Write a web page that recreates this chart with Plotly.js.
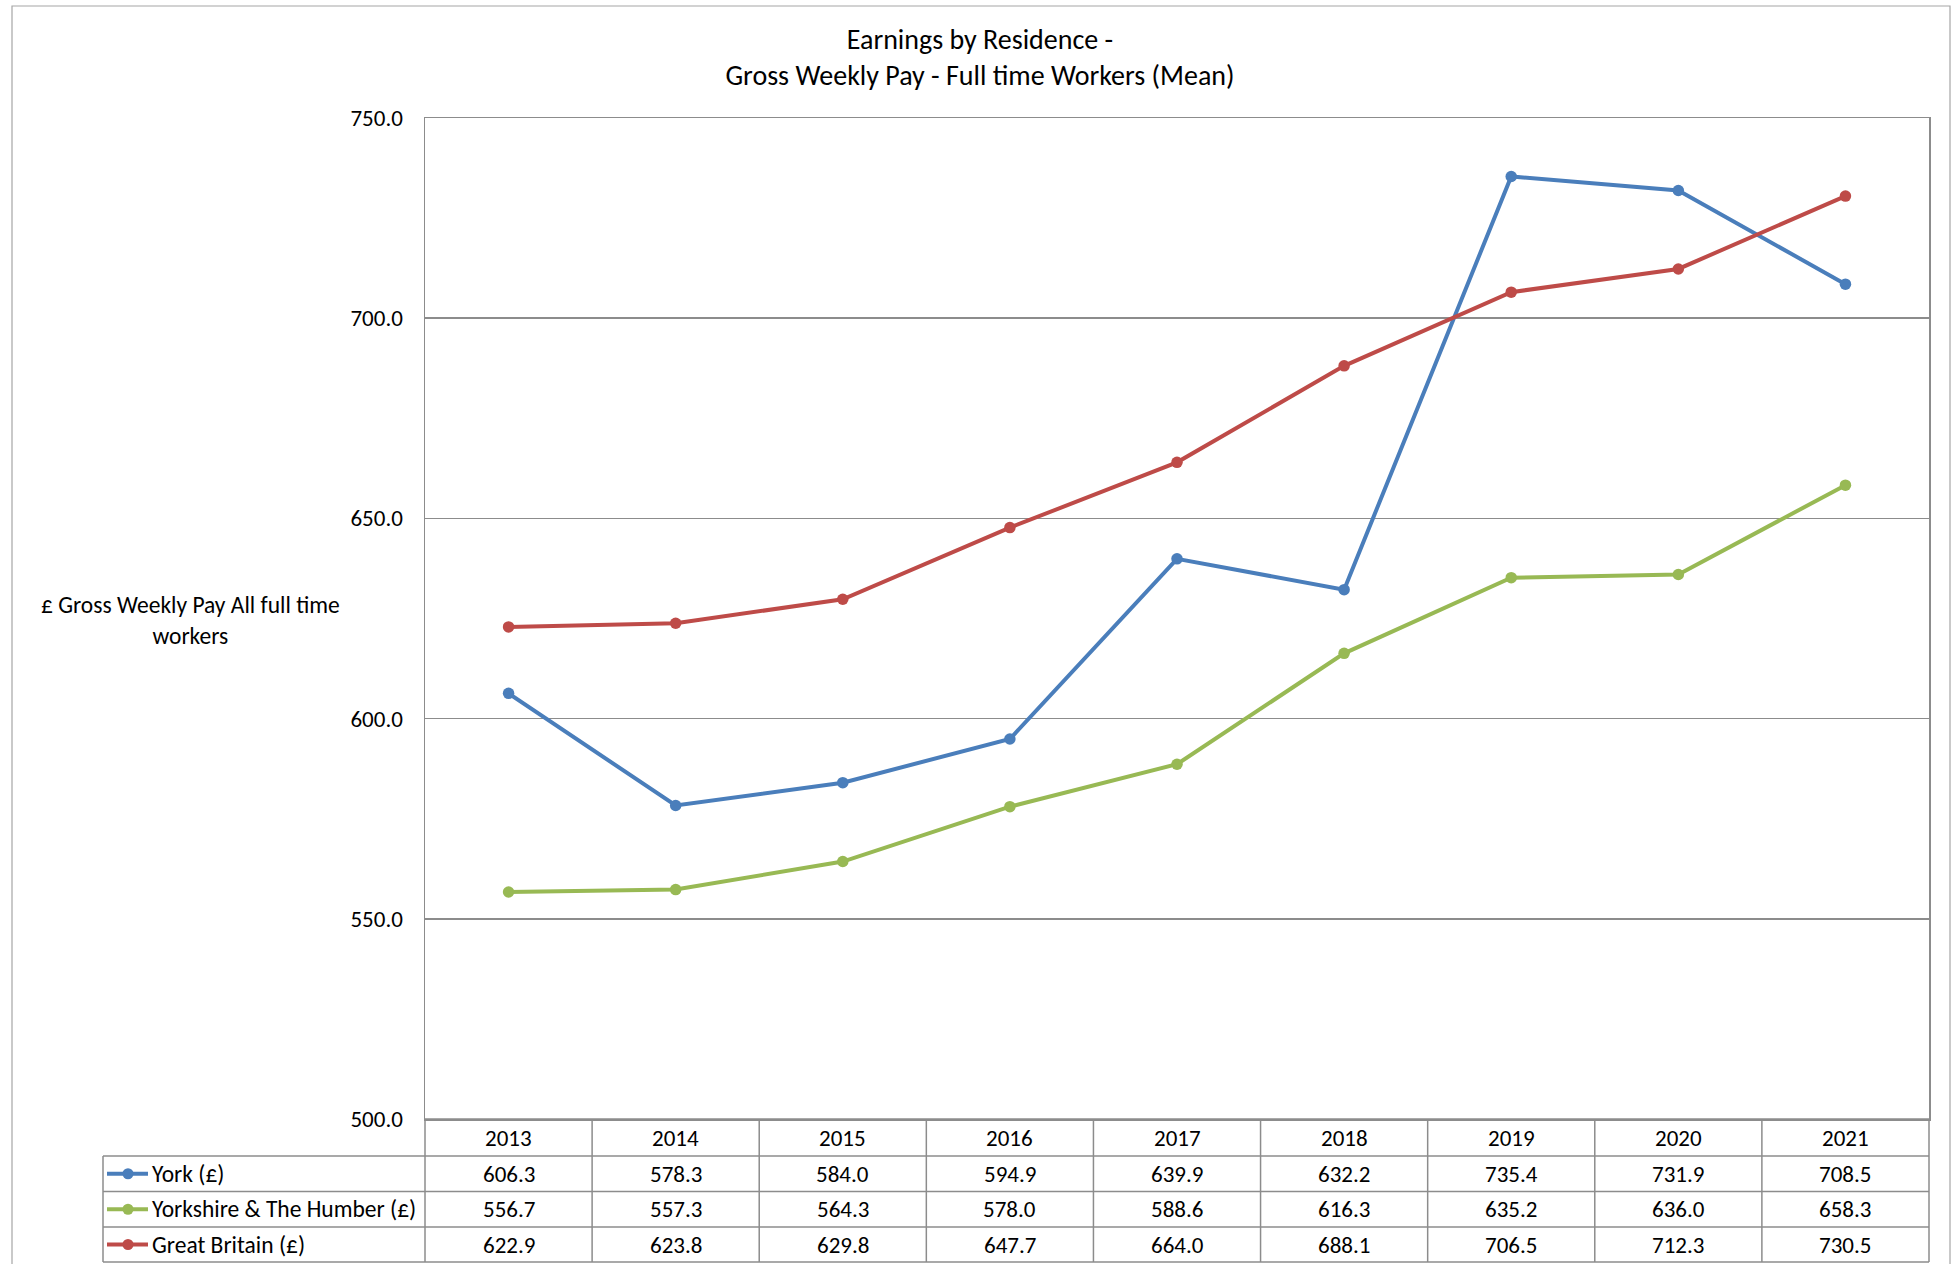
<!DOCTYPE html>
<html>
<head>
<meta charset="utf-8">
<script src="https://cdn.plot.ly/plotly-3.0.1.min.js"></script>
<style>html,body{margin:0;padding:0;background:#fff;}#chart{width:1956px;height:1264px;}</style>
</head>
<body>
<div id="chart"></div>
<script>
const years = ["2013","2014","2015","2016","2017","2018","2019","2020","2021"];
const york = [606.3, 578.3, 584.0, 594.9, 639.9, 632.2, 735.4, 731.9, 708.5];
const yorkshire = [556.7, 557.3, 564.3, 578.0, 588.6, 616.3, 635.2, 636.0, 658.3];
const greatBritain = [622.9, 623.8, 629.8, 647.7, 664.0, 688.1, 706.5, 712.3, 730.5];
const seriesNames = ["York (£)", "Yorkshire & The Humber (£)", "Great Britain (£)"];
const seriesColors = ["#4A7EBB", "#98B954", "#BE4B48"];
const yTicks = [500, 550, 600, 650, 700, 750];

const FONT = "Carlito, Lato, 'Liberation Sans', sans-serif";
const W = 1956, H = 1264;
const M = {l: 425, r: 27, t: 118, b: 145};
const plotW = W - M.l - M.r, plotH = H - M.t - M.b;
const px2x = p => (p - M.l) / plotW;
const py2y = p => (H - M.b - p) / plotH;
const grid = "#8C8C8C";
const TABLE_FS = 23;

const seriesVals = [york, yorkshire, greatBritain];
const traces = seriesVals.map((v, i) => ({
  type: "scatter", mode: "lines+markers", x: years, y: v, name: seriesNames[i],
  line: {color: seriesColors[i], width: 4},
  marker: {color: seriesColors[i], size: 11.5},
  hoverinfo: "skip"
}));

const rowEdges = [1119, 1156, 1191.5, 1227, 1262];
const tableLeft = 103;
const shapes = [];
const annotations = [];
const n = years.length;
for (let i = 0; i <= n; i++) {
  shapes.push({type: "line", xref: "paper", yref: "paper", x0: i / n, x1: i / n,
    y0: py2y(rowEdges[0]), y1: py2y(rowEdges[4]), line: {color: grid, width: 1.5}});
}
for (let r = 0; r < rowEdges.length; r++) {
  shapes.push({type: "line", xref: "paper", yref: "paper",
    x0: r === 0 ? 0 : px2x(tableLeft), x1: 1,
    y0: py2y(rowEdges[r]), y1: py2y(rowEdges[r]), line: {color: grid, width: 1.5}});
}
shapes.push({type: "line", xref: "paper", yref: "paper", x0: px2x(tableLeft), x1: px2x(tableLeft),
  y0: py2y(rowEdges[1]), y1: py2y(rowEdges[4]), line: {color: grid, width: 1.5}});
shapes.push({type: "rect", xref: "paper", yref: "paper", x0: px2x(12), x1: px2x(1950),
  y0: py2y(1275), y1: py2y(6), line: {color: "#A6A6A6", width: 1.2}, layer: "below"});

const colX = i => (i + 0.5) / n;
years.forEach((yr, i) => annotations.push({xref: "paper", yref: "paper", x: colX(i),
  y: py2y((rowEdges[0] + rowEdges[1]) / 2), text: yr, showarrow: false,
  font: {family: FONT, size: TABLE_FS, color: "#000"}, xanchor: "center", yanchor: "middle"}));
seriesVals.forEach((vals, r) => {
  const yc = py2y((rowEdges[r + 1] + rowEdges[r + 2]) / 2);
  vals.forEach((v, i) => annotations.push({xref: "paper", yref: "paper", x: colX(i), y: yc,
    text: v.toFixed(1), showarrow: false, font: {family: FONT, size: TABLE_FS, color: "#000"},
    xanchor: "center", yanchor: "middle"}));
  shapes.push({type: "line", xref: "paper", yref: "paper", x0: px2x(107), x1: px2x(148),
    y0: yc, y1: yc, line: {color: seriesColors[r], width: 4}});
  shapes.push({type: "circle", xref: "paper", yref: "paper", x0: px2x(122.5), x1: px2x(133.5),
    y0: yc - 5.5 / plotH, y1: yc + 5.5 / plotH, fillcolor: seriesColors[r], line: {width: 0}});
  annotations.push({xref: "paper", yref: "paper", x: px2x(150), y: yc, text: seriesNames[r],
    showarrow: false, font: {family: FONT, size: 23.5, color: "#000"}, xanchor: "left", yanchor: "middle"});
});
annotations.push({xref: "paper", yref: "paper", x: px2x(190), y: py2y(620),
  text: "£ Gross Weekly Pay All full time<br>workers", showarrow: false, align: "center",
  font: {family: FONT, size: 23.5, color: "#000"}, xanchor: "center", yanchor: "middle"});

const layout = {
  width: W, height: H, margin: M, paper_bgcolor: "#fff", plot_bgcolor: "#fff",
  showlegend: false,
  font: {family: FONT, color: "#000"},
  title: {text: "Earnings by Residence -<br>Gross Weekly Pay - Full time Workers (Mean)",
    x: 0.501, xanchor: "center", y: 1 - 48.5 / H, yanchor: "middle",
    font: {family: FONT, size: 28, color: "#000"}},
  xaxis: {type: "category", range: [-0.5, n - 0.5], showticklabels: false, showgrid: false,
    zeroline: false, showline: true, mirror: true, linecolor: grid, linewidth: 1.5, ticks: ""},
  yaxis: {range: [500, 750], tickvals: yTicks, tickformat: ".1f", showgrid: true, gridcolor: grid,
    gridwidth: 1.5, zeroline: false, showline: true, mirror: true, linecolor: grid, linewidth: 1.5,
    ticks: "outside", ticklen: 16, tickcolor: "rgba(0,0,0,0)",
    tickfont: {family: FONT, size: 23, color: "#000"}},
  shapes: shapes, annotations: annotations
};
Plotly.newPlot("chart", traces, layout, {displayModeBar: false, staticPlot: true});
</script>
</body>
</html>
